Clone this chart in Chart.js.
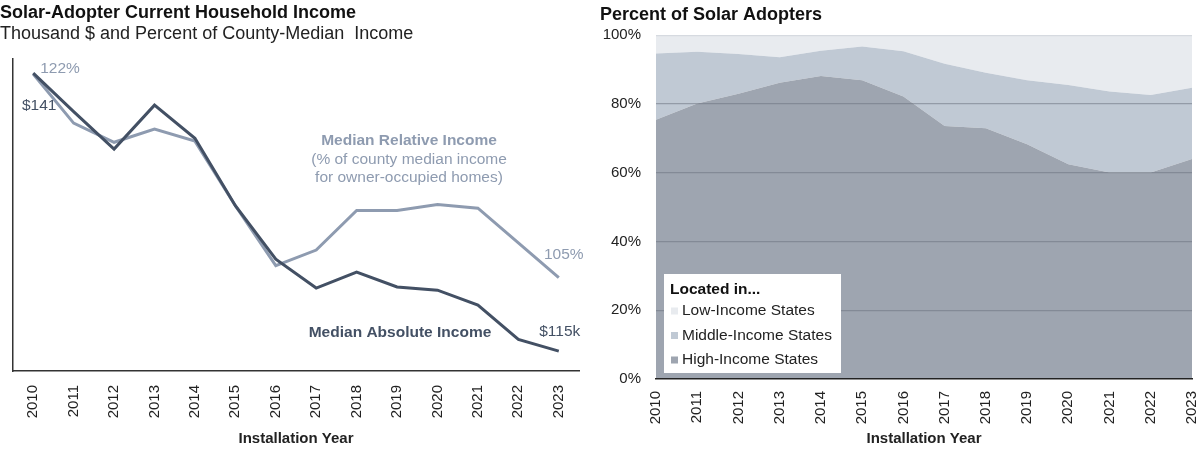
<!DOCTYPE html>
<html><head><meta charset="utf-8">
<script src="https://cdn.jsdelivr.net/npm/chart.js@4.4.0/dist/chart.umd.min.js"></script>
<style>
html,body{margin:0;padding:0;background:#fff;}
#wrap{position:relative;width:1200px;height:452px;overflow:hidden;}
canvas{position:absolute;top:0;}
</style></head><body>
<div id="wrap">
<canvas id="left" width="600" height="452" style="left:0"></canvas>
<canvas id="right" width="600" height="452" style="left:600px"></canvas>
</div>
<script>
// ---- data ----
const years = ['2010','2011','2012','2013','2014','2015','2016','2017','2018','2019','2020','2021','2022','2023'];
const medianAbsoluteIncome = [141, 137.4, 133.9, 138.0, 134.9, 128.6, 123.6, 120.9, 122.4, 121.0, 120.7, 119.3, 116.1, 115];
const medianRelativeIncome = [122, 117.9, 116.3, 117.4, 116.4, 111.0, 106.0, 107.3, 110.6, 110.6, 111.1, 110.8, 107.9, 105];
const highIncomeShare   = [75.4, 80.1, 83.0, 86.2, 88.1, 86.9, 82.2, 73.6, 72.9, 68.3, 62.5, 60.1, 60.1, 64.0];
const middleIncomeShare = [19.3, 15.1, 11.5, 7.4, 7.4, 9.8, 13.1, 18.1, 16.2, 18.6, 23.0, 23.5, 22.5, 20.7];
const lowIncomeShare    = [5.3, 4.8, 5.5, 6.4, 4.5, 3.3, 4.7, 8.3, 10.9, 13.1, 14.5, 16.4, 17.4, 15.3];
const percentTicks = [0, 20, 40, 60, 80, 100];
const shareLabels = ['High-Income States', 'Middle-Income States', 'Low-Income States'];

// ---- styles ----
const F = "'Liberation Sans', Arial, sans-serif";
const DARK = '#435064';
const LIGHT = '#8e9bb0';
const TXT = '#222';
const C_HIGH = '#9ea5b0', C_MID = '#c0c9d4', C_LOW = '#e8ebef';

// ---- left chart annotations ----
const leftLabels = {
  id: 'leftLabels',
  afterDatasetsDraw(chart) {
    const ctx = chart.ctx;
    const abs = chart.getDatasetMeta(0).data;
    const rel = chart.getDatasetMeta(1).data;
    const last = abs.length - 1;
    ctx.save();
    ctx.textBaseline = 'middle';
    ctx.font = '15.5px ' + F;
    ctx.fillStyle = LIGHT;
    ctx.textAlign = 'left';
    ctx.fillText(medianRelativeIncome[0] + '%', rel[0].x + 7, rel[0].y - 5);
    ctx.textAlign = 'center';
    ctx.fillText(medianRelativeIncome[last] + '%', rel[last].x + 5, rel[last].y - 23);
    ctx.fillStyle = DARK;
    ctx.fillText('$' + medianAbsoluteIncome[0], abs[0].x + 6, abs[0].y + 33);
    ctx.fillText('$' + medianAbsoluteIncome[last] + 'k', abs[last].x + 1, abs[last].y - 19);
    // series names
    ctx.font = 'bold 15.5px ' + F;
    ctx.fillStyle = LIGHT;
    ctx.fillText('Median Relative Income', 409, 141);
    ctx.font = '15.5px ' + F;
    ctx.fillText('(% of county median income', 409, 160);
    ctx.fillText('for owner-occupied homes)', 409, 178);
    ctx.font = 'bold 15.5px ' + F;
    ctx.fillStyle = DARK;
    ctx.fillText('Median Absolute Income', 400, 333);
    ctx.restore();
  }
};

new Chart(document.getElementById('left'), {
  type: 'line',
  data: {
    labels: years,
    datasets: [
      { label: 'Median Absolute Income', data: medianAbsoluteIncome, yAxisID: 'yAbs',
        borderColor: DARK, borderWidth: 3, pointRadius: 0, tension: 0, fill: false },
      { label: 'Median Relative Income', data: medianRelativeIncome, yAxisID: 'yRel',
        borderColor: LIGHT, borderWidth: 3, pointRadius: 0, tension: 0, fill: false }
    ]
  },
  options: {
    responsive: false, animation: false, devicePixelRatio: 1,
    layout: { padding: { left: 0, right: 21, top: 0, bottom: 0 } },
    plugins: {
      legend: { display: false }, tooltip: { enabled: false },
      title: { display: true, text: 'Solar-Adopter Current Household Income', align: 'start',
        color: '#111', font: { size: 18, weight: 'bold', family: F, lineHeight: 1.2 }, padding: { top: 2, bottom: 0 } },
      subtitle: { display: true, text: 'Thousand $ and Percent of County-Median  Income', align: 'start',
        color: TXT, font: { size: 18, family: F, lineHeight: 1.2 }, padding: { top: 0, bottom: 14 } }
    },
    scales: {
      x: {
        offset: true,
        grid: { display: false },
        border: { display: true, color: '#333', width: 1.5 },
        ticks: { minRotation: 90, maxRotation: 90, padding: 6, color: TXT, font: { size: 15, family: F } },
        title: { display: true, text: 'Installation Year', color: TXT,
          font: { size: 15, weight: 'bold', family: F, lineHeight: 1.2 }, padding: { top: 0, bottom: 4 } },
        afterFit(s) { s.height = 81; }
      },
      yAbs: {
        position: 'left', min: 113.14, max: 142.3,
        grid: { display: false }, ticks: { display: false },
        border: { display: true, color: '#333', width: 1.5 },
        afterFit(s) { s.width = 13; }
      },
      yRel: { display: false, min: 97.2, max: 123.24 }
    }
  },
  plugins: [leftLabels]
});

// ---- right chart legend ----
const boxLegend = {
  id: 'boxLegend',
  afterDraw(chart) {
    const ctx = chart.ctx;
    const a = chart.chartArea;
    const x0 = a.left + 8, y1 = a.bottom - 6;
    const w = 177, h = 99;
    const y0 = y1 - h;
    ctx.save();
    ctx.fillStyle = '#fff';
    ctx.fillRect(x0, y0, w, h);
    ctx.textBaseline = 'middle';
    ctx.textAlign = 'left';
    ctx.fillStyle = '#111';
    ctx.font = 'bold 15.5px ' + F;
    ctx.fillText('Located in...', x0 + 6, y0 + 16);
    ctx.font = '15.5px ' + F;
    const ds = chart.data.datasets.slice().reverse();
    ds.forEach((d, i) => {
      const cy = y0 + 37 + i * 24.5;
      ctx.fillStyle = d.backgroundColor;
      ctx.fillRect(x0 + 7, cy - 3.5, 7, 7);
      ctx.fillStyle = TXT;
      ctx.fillText(d.label, x0 + 18, cy);
    });
    ctx.restore();
  }
};

new Chart(document.getElementById('right'), {
  type: 'line',
  data: {
    labels: years,
    datasets: [
      { label: shareLabels[0], data: highIncomeShare, fill: 'origin', backgroundColor: C_HIGH,
        borderColor: 'rgba(0,0,0,0)', borderWidth: 0, pointRadius: 0, tension: 0 },
      { label: shareLabels[1], data: middleIncomeShare, fill: '-1', backgroundColor: C_MID,
        borderColor: 'rgba(0,0,0,0)', borderWidth: 0, pointRadius: 0, tension: 0 },
      { label: shareLabels[2], data: lowIncomeShare, fill: '-1', backgroundColor: C_LOW,
        borderColor: 'rgba(0,0,0,0)', borderWidth: 0, pointRadius: 0, tension: 0 }
    ]
  },
  options: {
    responsive: false, animation: false, devicePixelRatio: 1,
    layout: { padding: { left: 0, right: 0, top: 0, bottom: 0 } },
    plugins: {
      legend: { display: false }, tooltip: { enabled: false },
      title: { display: true, text: 'Percent of Solar Adopters', align: 'start',
        color: '#111', font: { size: 18, weight: 'bold', family: F, lineHeight: 1.2 }, padding: { top: 4, bottom: 9.6 } }
    },
    scales: {
      x: {
        offset: false,
        grid: { display: false },
        border: { display: true, color: '#222', width: 1.5, z: 2 },
        ticks: { minRotation: 90, maxRotation: 90, padding: 4, color: TXT, font: { size: 15, family: F } },
        title: { display: true, text: 'Installation Year', color: TXT,
          font: { size: 15, weight: 'bold', family: F, lineHeight: 1.2 }, padding: { top: 0, bottom: 4 } },
        afterFit(s) { s.height = 73; s.paddingRight = 8; s.paddingLeft = 0; }
      },
      y: {
        stacked: true, min: 0, max: 100,
        afterBuildTicks(s) { s.ticks = percentTicks.map(v => ({ value: v })); },
        grid: { drawTicks: false, lineWidth: 1.2, z: 1,
          color: c => c.tick.value === 100 ? '#d6dae0' : (c.tick.value === 0 ? 'rgba(0,0,0,0)' : 'rgba(110,117,129,0.55)') },
        border: { display: false },
        ticks: { padding: 15, color: TXT, font: { size: 15, family: F }, callback: v => v + '%' },
        afterFit(s) { s.width = 56; }
      }
    }
  },
  plugins: [boxLegend]
});
</script>
</body></html>
